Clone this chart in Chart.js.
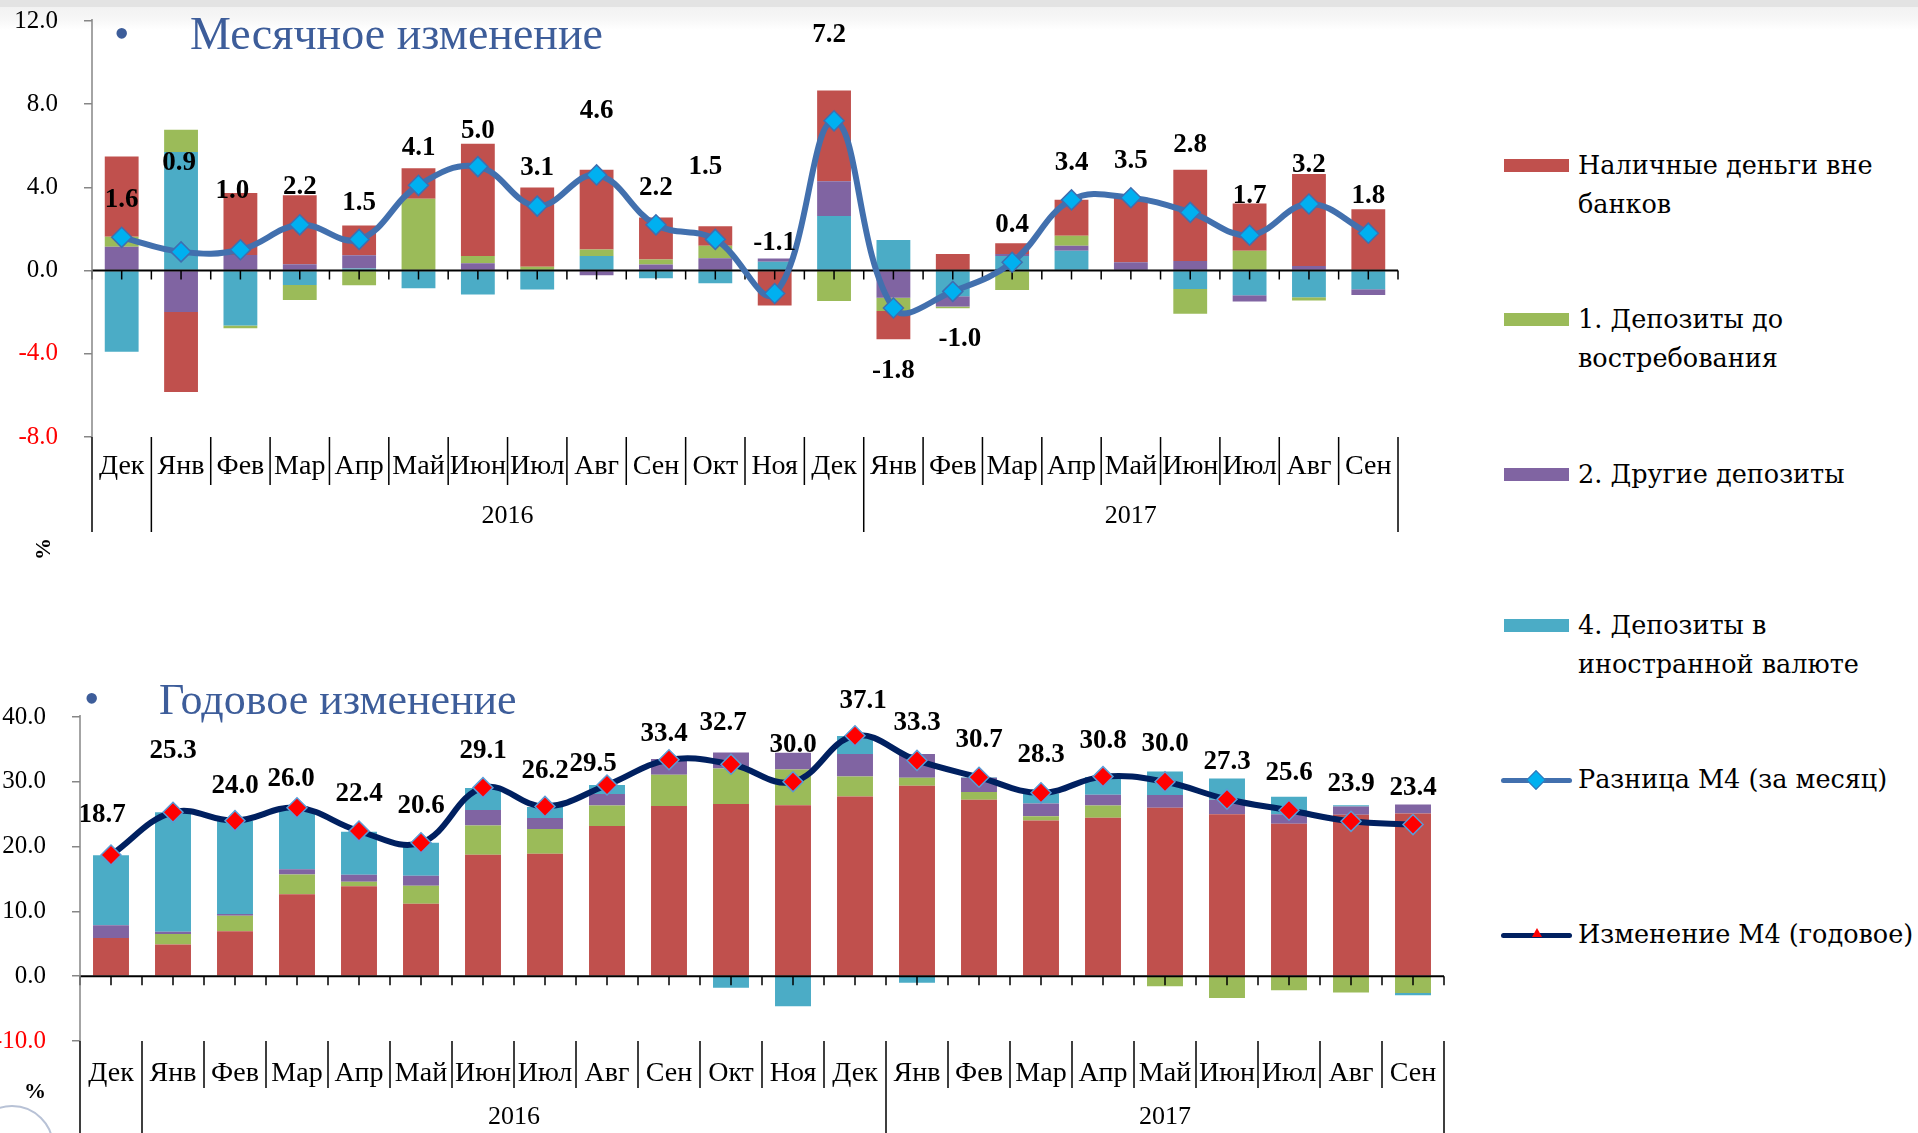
<!DOCTYPE html>
<html>
<head>
<meta charset="utf-8">
<script src="https://cdn.jsdelivr.net/npm/chart.js@4.4.1/dist/chart.umd.min.js"></script>
<style>
    body { margin: 0; width: 1918px; height: 1133px; background: #fff; position: relative; overflow: hidden; font-family: 'Liberation Serif', serif; }
    .abs { position: absolute; }
    #strip { left: 0; top: 0; width: 1918px; height: 30px; background: linear-gradient(#e3e3e3 0, #e3e3e3 7px, #f2f2f2 7px, #f6f6f6 18px, #fff 30px); }
    canvas { position: absolute; }
    .title { color: #3d5d9a; white-space: nowrap; }
    .bullet { color: #3d5d9a; font-size: 44px; line-height: 44px; }
    .legend-text { font-family: 'DejaVu Serif', serif; font-size: 25.5px; line-height: 39px; color: #000; white-space: nowrap; }
    .swatch { width: 65px; height: 13px; }
    .lline { height: 5px; border-radius: 3px; }
    .pct { font-weight: bold; font-size: 22px; }
</style>
</head>
<body>
<div id="strip" class="abs"></div>
<canvas id="monthly-chart" width="1480" height="560" style="left:0;top:0"></canvas>
<canvas id="annual-chart" width="1480" height="453" style="left:0;top:680px"></canvas>

<div class="abs bullet" style="left:114px;top:12px">•</div>
<div class="abs title" style="left:190px;top:8px;font-size:46px;line-height:52px">Месячное изменение</div>
<div class="abs bullet" style="left:84px;top:677px">•</div>
<div class="abs title" style="left:159px;top:675px;font-size:44px;line-height:50px">Годовое изменение</div>

<div class="abs pct" style="left:32px;top:536px;transform:rotate(-90deg)">%</div>
<div class="abs pct" style="left:24px;top:1078px">%</div>

<div class="abs" style="left:-30px;top:1105px;width:80px;height:80px;border-radius:50%;border:2px solid #b8c2d6"></div>

<!-- легенда -->
<div class="abs swatch" style="left:1504px;top:159px;background:#c0504d"></div>
<div class="abs legend-text" style="left:1578px;top:146px">Наличные деньги вне<br>банков</div>
<div class="abs swatch" style="left:1504px;top:313px;background:#9bbb59"></div>
<div class="abs legend-text" style="left:1578px;top:300px">1. Депозиты до<br>востребования</div>
<div class="abs swatch" style="left:1504px;top:468px;background:#8064a2"></div>
<div class="abs legend-text" style="left:1578px;top:455px">2. Другие депозиты</div>
<div class="abs swatch" style="left:1504px;top:619px;background:#4bacc6"></div>
<div class="abs legend-text" style="left:1578px;top:606px">4. Депозиты в<br>иностранной валюте</div>
<div class="abs lline" style="left:1501px;top:778px;width:71px;background:#4270ae"></div>
<div class="abs" style="left:1529px;top:773px;width:12px;height:12px;background:#00b0f0;border:1px solid #3f6fb0;transform:rotate(45deg)"></div>
<div class="abs legend-text" style="left:1578px;top:760px">Разница М4 (за месяц)</div>
<div class="abs lline" style="left:1501px;top:933px;width:71px;background:#002060"></div>
<div class="abs" style="left:1532px;top:928px;width:0;height:0;border-left:5px solid transparent;border-right:5px solid transparent;border-bottom:9px solid #ff0000"></div>
<div class="abs legend-text" style="left:1578px;top:915px">Изменение М4 (годовое)</div>

<script>
// подписи месяцев и годов
const months = ['Дек', 'Янв', 'Фев', 'Мар', 'Апр', 'Май', 'Июн', 'Июл', 'Авг', 'Сен', 'Окт', 'Ноя',
                'Дек', 'Янв', 'Фев', 'Мар', 'Апр', 'Май', 'Июн', 'Июл', 'Авг', 'Сен'];
const years = ['2016', '2017'];
const yearFirst = [1, 13];
const yearLast = [12, 21];

// месячное изменение, вклад компонентов (п.п.)
const cashM = [3.86, -3.85, 2.98, 3.32, 1.43, 1.47, 5.40, 3.81, 3.83, 2.02, 0.93, -1.68, 4.36, -1.36, 0.80, 0.51, 1.73, 3.10, 4.39, 2.26, 4.42, 2.95];
const demandM = [0.48, 1.07, -0.13, -0.72, -0.70, 3.45, 0.35, 0.19, 0.32, 0.24, 0.61, 0, -1.46, -0.63, -0.08, -0.93, 0.48, 0, -1.19, 0.96, -0.16, 0];
const otherM = [1.15, -1.99, 0.75, 0.30, 0.64, 0, 0.35, 0, -0.22, 0.29, 0.59, 0.16, 1.67, -1.31, -0.50, 0.10, 0.24, 0.40, 0.46, -0.29, 0.22, -0.27];
const foreignM = [-3.90, 5.70, -2.64, -0.69, 0.10, -0.85, -1.15, -0.91, 0.70, -0.37, -0.61, 0.42, 2.63, 1.47, -1.23, 0.70, 0.96, 0, -0.88, -1.19, -1.28, -0.90];
const m4Monthly = [1.6, 0.9, 1.0, 2.2, 1.5, 4.1, 5.0, 3.1, 4.6, 2.2, 1.5, -1.1, 7.2, -1.8, -1.0, 0.4, 3.4, 3.5, 2.8, 1.7, 3.2, 1.8];

// годовое изменение, вклад компонентов (п.п.)
const cashY = [5.90, 4.90, 6.95, 12.66, 13.90, 11.17, 18.73, 18.89, 23.16, 26.25, 26.56, 26.40, 27.74, 29.39, 27.23, 24.03, 24.45, 25.99, 25.01, 23.52, 24.90, 25.10];
const demandY = [0, 1.60, 2.37, 3.04, 0.67, 2.78, 4.53, 3.81, 3.19, 4.84, 5.50, 5.50, 3.09, 1.24, 1.18, 0.67, 1.90, -1.54, -3.35, -2.16, -2.50, -2.60];
const otherY = [1.96, 0.36, 0.26, 0.82, 1.08, 1.54, 2.37, 1.70, 1.75, 2.42, 2.47, 2.57, 3.45, 3.65, 2.21, 1.96, 1.65, 1.96, 2.21, 1.49, 1.30, 1.40];
const foreignY = [10.80, 18.45, 14.41, 9.20, 6.64, 5.10, 3.40, 1.70, 1.39, 0, -1.80, -4.63, 2.78, -1.03, 0.10, 1.54, 2.73, 3.65, 3.29, 2.68, 0.20, -0.35];
const m4Annual = [18.7, 25.3, 24.0, 26.0, 22.4, 20.6, 29.1, 26.2, 29.5, 33.4, 32.7, 30.0, 37.1, 33.3, 30.7, 28.3, 30.8, 30.0, 27.3, 25.6, 23.9, 23.4];

// сдвиги подписей значений (px)
const monthlyDx = [0, -2, -8, 0, 0, 0, 0, 0, 0, 0, -10, 0, -5, 0, 7, 0, 0, 0, 0, 0, 0, 0];
const monthlyDy = [-37, -89, -59, -38, -36, -37, -36, -38, -64, -37, -72, -50, -86, 63, 48, -37, -37, -37, -67, -39, -39, -37];
const annualDx = [-9, 0, 0, -6, 0, 0, 0, 0, -14, -5, -8, 0, 8, 0, 0, 0, 0, 0, 0, 0, 0, 0];
const annualDy = [-40, -61, -35, -29, -37, -37, -37, -35, -21, -26, -41, -37, -35, -37, -37, -38, -36, -38, -37, -37, -37, -37];

const COLORS = { cash: '#c0504d', demand: '#9bbb59', other: '#8064a2', foreign: '#4bacc6' };
const SERIF = 'Liberation Serif';

// оси, разделители, подписи — рисуем поверх
const decorPlugin = {
    id: 'decor',
    beforeDatasetDraw(chart, args, opts) {
        if (args.index !== opts.lineIndex) return;
        const ctx = chart.ctx;
        const xs = chart.scales.x;
        const area = chart.chartArea;
        const y0 = chart.scales.y.getPixelForValue(0);
        const n = chart.data.labels.length;
        ctx.save();
        ctx.strokeStyle = '#000';
        ctx.lineWidth = 2;
        ctx.beginPath();
        ctx.moveTo(area.left, y0);
        ctx.lineTo(area.right, y0);
        ctx.stroke();
        ctx.lineWidth = 1.5;
        ctx.beginPath();
        for (let i = 0; i <= n; i++) {
            const ex = edgeX(chart, i);
            ctx.moveTo(ex, y0);
            ctx.lineTo(ex, y0 + 9);
            if (i < n) {
                const cx = xs.getPixelForValue(i);
                ctx.moveTo(cx, y0);
                ctx.lineTo(cx, y0 + 9);
            }
        }
        ctx.stroke();
        ctx.restore();
    },
    afterDatasetsDraw(chart, args, opts) {
        const ctx = chart.ctx;
        const meta = chart.getDatasetMeta(opts.lineIndex);
        const values = chart.data.datasets[opts.lineIndex].data;
        ctx.save();
        ctx.font = `bold 27px "${SERIF}"`;
        ctx.fillStyle = '#000';
        ctx.textAlign = 'center';
        ctx.textBaseline = 'middle';
        meta.data.forEach((pt, i) => {
            ctx.fillText(values[i].toFixed(1), pt.x + opts.dx[i], pt.y + opts.dy[i]);
        });
        ctx.restore();
    },
    afterDraw(chart, args, opts) {
        const ctx = chart.ctx;
        const xs = chart.scales.x;
        const area = chart.chartArea;
        const n = chart.data.labels.length;
        const longEdges = [0, n].concat(yearFirst);
        ctx.save();
        // вертикальная ось
        ctx.strokeStyle = '#868686';
        ctx.lineWidth = 1.5;
        ctx.beginPath();
        ctx.moveTo(area.left, area.top - 2);
        ctx.lineTo(area.left, area.bottom);
        ctx.stroke();
        // разделители категорий
        ctx.strokeStyle = '#000';
        ctx.beginPath();
        for (let i = 0; i <= n; i++) {
            const ex = edgeX(chart, i);
            ctx.moveTo(ex, area.bottom);
            ctx.lineTo(ex, longEdges.includes(i) ? opts.longBottom : opts.sepBottom);
        }
        ctx.stroke();
        ctx.fillStyle = '#000';
        ctx.textAlign = 'center';
        ctx.textBaseline = 'middle';
        ctx.font = `28px "${SERIF}"`;
        chart.data.labels.forEach((lab, i) => {
            ctx.fillText(lab, xs.getPixelForValue(i), opts.labelY);
        });
        ctx.font = `26px "${SERIF}"`;
        years.forEach((yr, k) => {
            const cx = (edgeX(chart, yearFirst[k]) + edgeX(chart, yearLast[k] + 1)) / 2;
            ctx.fillText(yr, cx, opts.yearY);
        });
        ctx.restore();
    }
};

function edgeX(chart, i) {
    const xs = chart.scales.x;
    const area = chart.chartArea;
    const n = chart.data.labels.length;
    if (i === 0) return area.left;
    if (i === n) return area.right;
    return (xs.getPixelForValue(i - 1) + xs.getPixelForValue(i)) / 2;
}

function barSet(label, data, color, pct) {
    return { type: 'bar', label: label, data: data, backgroundColor: color, stack: 'parts', order: 1,
             borderWidth: 0, barPercentage: pct, categoryPercentage: 1 };
}

function makeOptions(cfg) {
    return {
        responsive: false,
        animation: false,
        layout: { padding: cfg.padding },
        plugins: {
            legend: { display: false },
            tooltip: { enabled: false },
            decor: cfg.decor
        },
        scales: {
            x: { display: false, stacked: true, offset: true },
            y: {
                stacked: true,
                min: cfg.min,
                max: cfg.max,
                afterFit: (scale) => {
                    scale.width = cfg.axisWidth;
                    scale.paddingTop = 0;
                    scale.paddingBottom = 0;
                },
                ticks: {
                    stepSize: cfg.step,
                    padding: 26,
                    color: (c) => c.tick.value < 0 ? '#ff0000' : '#000',
                    font: { family: SERIF, size: 25 },
                    callback: (v) => v.toFixed(1)
                },
                grid: { drawOnChartArea: false, tickLength: 8, color: '#868686', lineWidth: 1.5 },
                border: { display: false }
            }
        }
    };
}

// месячный график
new Chart(document.getElementById('monthly-chart'), {
    data: {
        labels: months,
        datasets: [
            barSet('4. Депозиты в иностранной валюте', foreignM, COLORS.foreign, 0.57),
            barSet('2. Другие депозиты', otherM, COLORS.other, 0.57),
            barSet('1. Депозиты до востребования', demandM, COLORS.demand, 0.57),
            barSet('Наличные деньги вне банков', cashM, COLORS.cash, 0.57),
            {
                type: 'line', label: 'Разница М4 (за месяц)', data: m4Monthly, stack: 'line', order: 0,
                borderColor: '#4270ae', borderWidth: 6, tension: 0.4,
                pointStyle: 'rectRot', pointRadius: 10, pointBackgroundColor: '#00b0f0',
                pointBorderColor: '#3f6fb0', pointBorderWidth: 1.5
            }
        ]
    },
    options: makeOptions({
        padding: { top: 21, bottom: 123, left: 0, right: 82 },
        min: -8, max: 12, step: 4, axisWidth: 92,
        decor: { lineIndex: 4, dx: monthlyDx, dy: monthlyDy, labelY: 467, sepBottom: 485, longBottom: 532, yearY: 516 }
    }),
    plugins: [decorPlugin]
});

// годовой график
new Chart(document.getElementById('annual-chart'), {
    data: {
        labels: months,
        datasets: [
            barSet('Наличные деньги вне банков', cashY, COLORS.cash, 0.58),
            barSet('1. Депозиты до востребования', demandY, COLORS.demand, 0.58),
            barSet('2. Другие депозиты', otherY, COLORS.other, 0.58),
            barSet('4. Депозиты в иностранной валюте', foreignY, COLORS.foreign, 0.58),
            {
                type: 'line', label: 'Изменение М4 (годовое)', data: m4Annual, stack: 'line', order: 0,
                borderColor: '#002060', borderWidth: 6, tension: 0.4,
                pointStyle: 'rectRot', pointRadius: 10, pointBackgroundColor: '#ff0000',
                pointBorderColor: '#5b9bd5', pointBorderWidth: 1.5
            }
        ]
    },
    options: makeOptions({
        padding: { top: 37, bottom: 92, left: 0, right: 36 },
        min: -10, max: 40, step: 10, axisWidth: 80,
        decor: { lineIndex: 4, dx: annualDx, dy: annualDy, labelY: 394, sepBottom: 408, longBottom: 453, yearY: 437 }
    }),
    plugins: [decorPlugin]
});
</script>
</body>
</html>
